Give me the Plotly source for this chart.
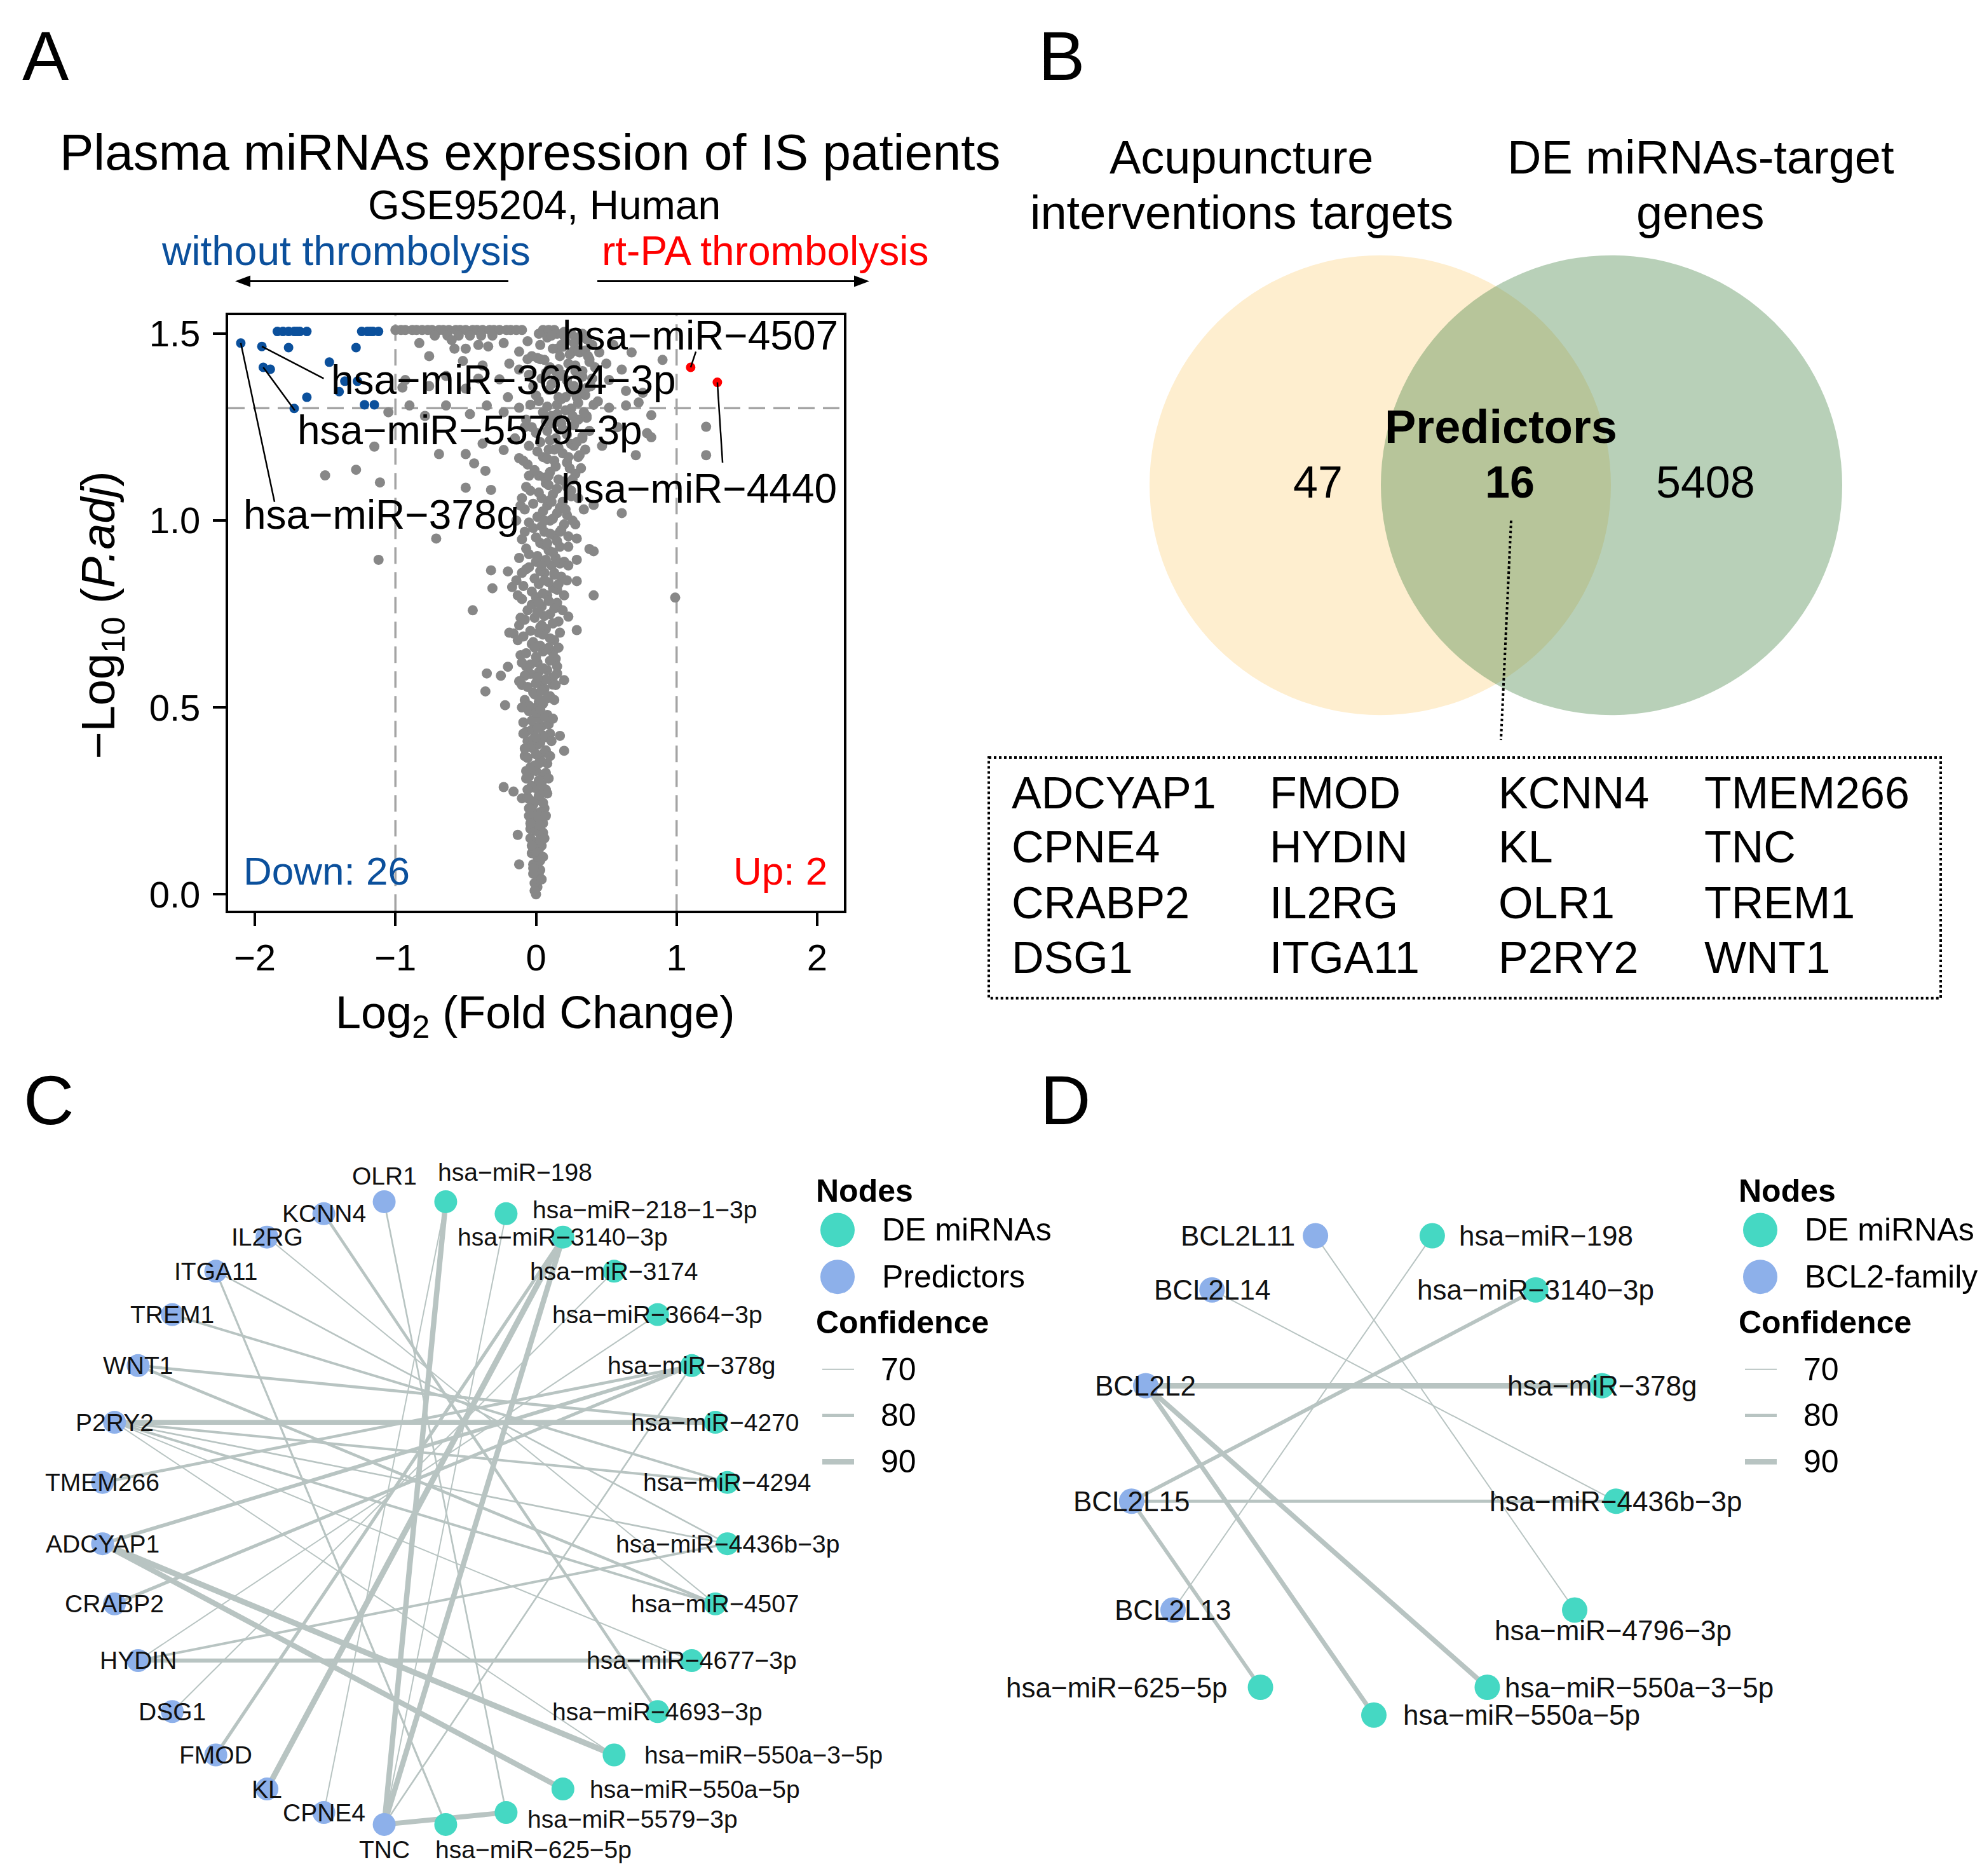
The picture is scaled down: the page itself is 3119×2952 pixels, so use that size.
import math
import plotly.graph_objects as go

W, H = 3119, 2952
FONT = "Liberation Sans, Arial, sans-serif"
BLUE = "#0b509c"
RED = "#ff0000"
GRAY = "#878787"
TEAL = "#45d8c3"
PRED = "#8db0ea"
EDGE = "#b8c4c2"

# ---------------- Panel A data (volcano) : (log2FC, -log10 P.adj) ----------------
gray_points = [
    (-1.00, 1.51), (-0.96, 1.51), (-0.93, 1.51), (-0.88, 1.51), (-0.85, 1.51), (-0.81, 1.51),
    (-0.77, 1.51), (-0.74, 1.51), (-0.69, 1.51), (-0.66, 1.51), (-0.62, 1.51), (-0.57, 1.51),
    (-0.54, 1.51), (-0.50, 1.51), (-0.45, 1.51), (-0.42, 1.51), (-0.38, 1.51), (-0.33, 1.51),
    (-0.30, 1.51), (-0.26, 1.51), (-0.21, 1.51), (-0.18, 1.51), (-0.14, 1.51), (-0.10, 1.51),
    (-0.72, 1.495), (-0.63, 1.495), (-0.55, 1.495), (-0.47, 1.495), (-0.39, 1.495), (-0.31, 1.495),
    (0.02, 1.50), (0.05, 1.51), (0.09, 1.51), (0.13, 1.51), (0.20, 1.505), (0.25, 1.50), (0.30, 1.49), (0.33, 1.50),
    (-0.83, 1.475), (-0.76, 1.44), (-0.58, 1.46), (-0.50, 1.46), (-0.41, 1.47), (-0.34, 1.466),
    (-0.23, 1.475), (-0.12, 1.452), (-0.60, 1.483), (-0.52, 1.427), (-0.38, 1.415), (-0.19, 1.42),
    (-0.95, 1.356), (-0.93, 1.376), (-0.76, 1.36), (-0.64, 1.387), (-0.50, 1.353), (-0.41, 1.38),
    (-0.26, 1.378), (-0.12, 1.404), (-0.06, 1.432),
    (0.20, 1.494), (0.29, 1.489), (0.15, 1.46), (0.26, 1.452), (0.38, 1.432), (0.50, 1.42),
    (0.61, 1.404), (0.52, 1.376), (0.64, 1.347), (0.73, 1.316), (0.82, 1.282), (0.90, 1.43),
    (0.79, 1.234), (0.76, 1.342), (0.64, 1.308), (0.52, 1.302), (0.44, 1.319), (0.35, 1.336),
    (0.26, 1.359), (0.17, 1.387), (0.09, 1.404), (0.03, 1.432),
    (-0.20, 1.33), (-0.12, 1.302), (-0.23, 1.29), (-0.35, 1.308), (-0.47, 1.285), (-0.64, 1.308),
    (-0.79, 1.28), (-0.90, 1.308), (-1.05, 1.29),
    (-1.15, 1.198), (-0.69, 1.178), (-0.50, 1.178), (-0.38, 1.206), (-0.23, 1.189), (-0.12, 1.167),
    (-0.44, 1.153), (-0.36, 1.133), (-0.50, 1.088), (-0.32, 1.082), (-1.28, 1.136), (-1.50, 1.121),
    (-1.11, 1.102), (-0.71, 0.952), (-1.12, 0.895), (1.21, 1.251), (1.21, 1.175), (0.71, 1.175),
    (0.82, 1.223), (0.61, 1.02), (0.41, 1.042), (0.38, 0.924), (0.29, 0.952), (0.23, 0.958),
    (0.29, 0.895), (0.41, 0.918), (0.99, 0.794), (0.41, 0.80), (0.23, 0.743), (-0.45, 0.76),
    (-0.32, 0.867), (-0.20, 0.864), (-0.31, 0.819), (-0.17, 0.822),
    (-0.08, 1.25), (-0.15, 1.22), (-0.05, 1.12), (-0.10, 1.06), (-0.14, 1.00), (0.25, 1.08),
    (0.30, 1.17), (0.33, 1.22), (0.36, 1.28), (0.40, 1.38), (0.45, 1.45), (0.55, 1.47),
    (0.68, 1.45), (0.58, 1.25), (0.47, 1.20), (0.34, 1.03), (0.28, 0.99),
    (-0.35, 0.591), (-0.36, 0.543), (-0.22, 0.506), (-0.25, 0.585), (-0.20, 0.609), (0.29, 0.838),
    (0.29, 0.707), (0.20, 0.573), (0.17, 0.424), (0.20, 0.384), (-0.23, 0.287), (-0.16, 0.275),
    (-0.10, 0.257), (-0.13, 0.159), (-0.12, 0.08), (-0.19, 0.70), (-0.16, 0.698), (0.12, 0.725),
    (0.15, 0.768), (0.12, 0.646), (0.15, 0.591), (0.12, 0.561),
    (0.00, 0.00), (0.01, 0.02), (-0.01, 0.03), (0.02, 0.05), (0.00, 0.06), (-0.02, 0.08), (0.03, 0.09), (0.01, 0.10),
    (-0.03, 0.11), (0.02, 0.12), (0.04, 0.13), (-0.01, 0.14), (-0.04, 0.15), (0.03, 0.16), (0.00, 0.17), (-0.03, 0.18), (0.05, 0.19), (0.01, 0.20),
    (-0.05, 0.21), (0.03, 0.22), (0.06, 0.23), (-0.02, 0.24), (0.00, 0.25), (-0.06, 0.26), (0.04, 0.27), (0.07, 0.28), (-0.03, 0.29), (0.02, 0.30),
    (-0.07, 0.31), (0.05, 0.32), (0.00, 0.33), (-0.04, 0.34), (0.08, 0.35), (0.03, 0.36), (-0.08, 0.37), (0.06, 0.38), (-0.02, 0.39), (0.01, 0.40),
    (-0.06, 0.41), (0.07, 0.42), (0.10, 0.43), (-0.03, 0.44), (0.04, 0.45), (-0.09, 0.46), (0.02, 0.47), (0.08, 0.48), (-0.05, 0.49), (0.00, 0.50),
    (0.05, 0.51), (-0.08, 0.52), (0.10, 0.53), (-0.02, 0.54), (0.06, 0.55), (-0.10, 0.56), (0.03, 0.57), (0.12, 0.58), (-0.04, 0.59), (0.08, 0.60),
    (-0.07, 0.61), (0.01, 0.62), (0.14, 0.63), (-0.11, 0.64), (0.05, 0.65), (0.09, 0.66), (-0.03, 0.67), (0.13, 0.68), (-0.09, 0.69), (0.02, 0.70),
    (0.07, 0.71), (-0.12, 0.72), (0.16, 0.73), (-0.01, 0.74), (0.10, 0.75), (-0.06, 0.76), (0.04, 0.77), (0.15, 0.78), (-0.10, 0.79), (0.08, 0.80),
    (-0.03, 0.81), (0.12, 0.82), (0.02, 0.83), (-0.14, 0.84), (0.18, 0.85), (0.06, 0.86), (-0.07, 0.87), (0.11, 0.88), (0.00, 0.89), (0.14, 0.90),
    (-0.05, 0.91), (0.09, 0.92), (0.17, 0.93), (0.03, 0.94), (-0.10, 0.95), (0.13, 0.96), (0.06, 0.97), (-0.02, 0.98), (0.20, 0.99), (0.10, 1.00),
    (0.01, 1.01), (0.15, 1.02), (-0.08, 1.03), (0.08, 1.04), (0.19, 1.05), (0.04, 1.06), (0.12, 1.07), (-0.04, 1.08), (0.22, 1.09), (0.07, 1.10),
    (0.16, 1.11), (0.02, 1.12), (0.10, 1.13), (0.24, 1.14), (-0.06, 1.15), (0.13, 1.16), (0.05, 1.17), (0.19, 1.18), (0.09, 1.19), (0.27, 1.20),
    (0.03, 1.21), (0.14, 1.22), (0.22, 1.23), (0.08, 1.24), (-0.03, 1.25), (0.18, 1.26), (0.30, 1.27), (0.11, 1.28), (0.05, 1.29), (0.25, 1.30),
    (0.15, 1.31), (0.02, 1.32), (0.21, 1.33), (0.32, 1.34), (0.09, 1.35), (0.27, 1.36), (0.13, 1.37), (0.04, 1.38), (0.19, 1.39), (0.28, 1.40),
    (0.10, 1.41), (0.23, 1.42), (0.06, 1.43), (0.17, 1.44), (0.31, 1.45), (0.12, 1.46), (0.03, 1.47), (0.21, 1.48), (0.08, 1.49), (0.15, 1.50),
    (-0.01, 0.01), (0.02, 0.04), (-0.02, 0.055), (0.01, 0.075), (0.03, 0.065),
    (0.00, 0.115), (-0.02, 0.125), (0.03, 0.145), (0.05, 0.165), (-0.04, 0.175), (0.02, 0.185),
    (0.01, 0.215), (-0.03, 0.225), (0.05, 0.245), (-0.05, 0.255), (0.02, 0.265), (0.06, 0.275), (-0.01, 0.285), (0.04, 0.295),
    (0.02, 0.305), (-0.05, 0.315), (0.07, 0.325), (-0.01, 0.345), (0.04, 0.355), (-0.06, 0.365), (0.00, 0.375), (0.07, 0.385), (-0.04, 0.395),
    (0.03, 0.405), (-0.02, 0.415), (0.05, 0.425), (-0.07, 0.435), (0.01, 0.445), (0.09, 0.455), (-0.03, 0.465), (0.06, 0.475), (0.00, 0.485), (0.03, 0.495),
    (-0.05, 0.505), (0.02, 0.515), (0.08, 0.525), (-0.01, 0.535), (0.04, 0.545), (-0.06, 0.555), (0.00, 0.565), (0.07, 0.575), (-0.08, 0.585), (0.02, 0.595),
    (0.05, 0.605), (-0.04, 0.615), (0.10, 0.625), (0.00, 0.635), (-0.07, 0.645), (0.07, 0.655), (0.03, 0.665), (-0.02, 0.675), (0.10, 0.685), (0.05, 0.695),
    (-0.04, 0.705), (0.03, 0.715), (0.12, 0.725), (-0.08, 0.735), (0.06, 0.745), (0.01, 0.755), (0.13, 0.765), (-0.03, 0.775), (0.09, 0.785), (0.00, 0.795),
    (0.05, 0.805), (0.15, 0.815), (-0.09, 0.825), (0.09, 0.835), (-0.01, 0.845), (0.13, 0.855), (0.03, 0.865), (-0.05, 0.875), (0.17, 0.885), (0.07, 0.895),
    (0.01, 0.905), (0.12, 0.915), (-0.07, 0.925), (0.06, 0.935), (0.15, 0.945), (0.00, 0.955), (0.10, 0.965), (0.18, 0.975), (0.04, 0.985), (-0.05, 0.995),
    (0.12, 1.005), (0.22, 1.015), (0.05, 1.025), (0.17, 1.035), (-0.02, 1.045), (0.10, 1.055), (0.25, 1.065), (0.02, 1.075), (0.15, 1.085), (0.09, 1.095),
    (0.20, 1.105), (0.06, 1.115), (0.28, 1.125), (-0.01, 1.135), (0.14, 1.145), (0.22, 1.155), (0.08, 1.165), (0.31, 1.175), (0.01, 1.185), (0.16, 1.195),
    (0.25, 1.205), (0.10, 1.215), (0.33, 1.225), (0.00, 1.235), (0.19, 1.245), (0.27, 1.255), (0.07, 1.265), (0.36, 1.275), (0.15, 1.285), (0.21, 1.295),
    (0.08, 1.305), (0.30, 1.315), (0.18, 1.325), (0.00, 1.335), (0.25, 1.345), (0.36, 1.355), (0.11, 1.365), (0.22, 1.375), (0.33, 1.385), (0.07, 1.395),
    (0.16, 1.405), (0.28, 1.415), (0.38, 1.425), (0.01, 1.435), (0.24, 1.445), (0.35, 1.455), (0.19, 1.465), (0.27, 1.475), (0.36, 1.485), (0.11, 1.495),
    (0.30, 1.455), (0.40, 1.47), (0.37, 1.44), (0.42, 1.41), (0.33, 1.40), (0.39, 1.36), (0.29, 1.33), (0.41, 1.31),
    (0.34, 1.29), (0.26, 1.28), (0.38, 1.24), (0.29, 1.21), (0.35, 1.19), (0.23, 1.17), (0.32, 1.14), (0.26, 1.11),
    (0.30, 1.06), (0.21, 1.03), (0.26, 1.00), (0.17, 0.97), (0.23, 0.93), (0.13, 0.86), (0.20, 0.89), (0.16, 0.83),
    (-0.06, 1.48), (-0.03, 1.44), (-0.05, 1.39), (-0.02, 1.36), (-0.04, 1.31), (-0.07, 1.27), (-0.05, 1.20),
    (-0.09, 1.16), (-0.07, 1.09), (-0.11, 1.04), (-0.08, 0.97), (-0.12, 0.90), (-0.10, 0.86), (-0.13, 0.80),
    (-0.11, 0.74), (-0.13, 0.68), (-0.10, 0.62), (-0.12, 0.57), (-0.10, 0.50), (-0.09, 0.43), (-0.08, 0.39),
    (-0.07, 0.33), (-0.06, 0.28), (-0.05, 0.23), (-0.04, 0.19), (-0.03, 0.13), (-0.02, 0.07),
    (0.04, 0.04), (0.05, 0.10), (0.06, 0.15), (0.07, 0.21), (0.08, 0.27), (0.09, 0.31), (0.10, 0.37),
    (0.11, 0.41), (0.12, 0.47), (0.13, 0.52), (0.14, 0.56), (0.15, 0.61), (0.16, 0.66), (0.17, 0.70),
    (0.19, 0.76), (0.20, 0.80), (0.22, 0.84), (0.23, 0.88),
    (0.02, 0.35), (0.00, 0.42), (0.03, 0.52), (0.01, 0.58), (-0.01, 0.66), (0.04, 0.72), (0.02, 0.78),
    (0.06, 0.84), (0.04, 0.88), (0.08, 0.94), (0.06, 1.00), (0.11, 1.05), (0.09, 1.12), (0.13, 1.19),
    (0.12, 1.26), (0.16, 1.33), (0.14, 1.40), (0.18, 1.47),
]
down_points = [
    (-2.10, 1.475), (-1.95, 1.466), (-1.94, 1.41), (-1.89, 1.405), (-1.76, 1.463), (-1.28, 1.463),
    (-1.84, 1.506), (-1.80, 1.506), (-1.76, 1.506), (-1.72, 1.506), (-1.68, 1.506), (-1.63, 1.506),
    (-1.70, 1.506), (-1.24, 1.506), (-1.20, 1.506), (-1.16, 1.506), (-1.12, 1.506), (-1.18, 1.506),
    (-1.47, 1.424), (-1.36, 1.373), (-1.27, 1.373), (-1.40, 1.345), (-1.63, 1.33), (-1.72, 1.30),
    (-1.22, 1.31), (-1.15, 1.31),
]
up_points = [(1.10, 1.41), (1.29, 1.37)]
padj_cutoff = 0.05
fc_cutoff = 1.0
# labelled miRNAs: (name, group, index in that group)
labelled = [
    ("hsa-miR-378g", "down", 0),
    ("hsa-miR-3664-3p", "down", 1),
    ("hsa-miR-5579-3p", "down", 2),
    ("hsa-miR-4507", "up", 0),
    ("hsa-miR-4440", "up", 1),
]

# ---------------- Panel B data (Venn) ----------------
venn_sets = ["Acupuncture<br>interventions targets", "DE miRNAs-target<br>genes"]
venn_only_left = 47
venn_both = 16
venn_only_right = 5408
predictor_genes = ["ADCYAP1", "CPNE4", "CRABP2", "DSG1", "FMOD", "HYDIN", "IL2RG", "ITGA11",
                   "KCNN4", "KL", "OLR1", "P2RY2", "TMEM266", "TNC", "TREM1", "WNT1"]

# ---------------- Panel C data (network) ----------------
c_mirnas = ["hsa-miR-198", "hsa-miR-218-1-3p", "hsa-miR-3140-3p", "hsa-miR-3174", "hsa-miR-3664-3p",
            "hsa-miR-378g", "hsa-miR-4270", "hsa-miR-4294", "hsa-miR-4436b-3p", "hsa-miR-4507",
            "hsa-miR-4677-3p", "hsa-miR-4693-3p", "hsa-miR-550a-3-5p", "hsa-miR-550a-5p",
            "hsa-miR-5579-3p", "hsa-miR-625-5p"]
c_predictors = ["TNC", "CPNE4", "KL", "FMOD", "DSG1", "HYDIN", "CRABP2", "ADCYAP1", "TMEM266",
                "P2RY2", "WNT1", "TREM1", "ITGA11", "IL2RG", "KCNN4", "OLR1"]
c_edges = [
    ("TNC", "hsa-miR-198", 90), ("TNC", "hsa-miR-3140-3p", 90), ("TNC", "hsa-miR-5579-3p", 88),
    ("TNC", "hsa-miR-218-1-3p", 70), ("TNC", "hsa-miR-378g", 72), ("KL", "hsa-miR-3140-3p", 92),
    ("FMOD", "hsa-miR-3140-3p", 80), ("CPNE4", "hsa-miR-198", 70), ("DSG1", "hsa-miR-3174", 70),
    ("HYDIN", "hsa-miR-4677-3p", 84), ("HYDIN", "hsa-miR-4436b-3p", 76), ("HYDIN", "hsa-miR-3664-3p", 70),
    ("CRABP2", "hsa-miR-378g", 80), ("ADCYAP1", "hsa-miR-378g", 82), ("ADCYAP1", "hsa-miR-550a-3-5p", 92),
    ("ADCYAP1", "hsa-miR-550a-5p", 90), ("TMEM266", "hsa-miR-378g", 78), ("P2RY2", "hsa-miR-4270", 88),
    ("P2RY2", "hsa-miR-4294", 76), ("P2RY2", "hsa-miR-4436b-3p", 72), ("P2RY2", "hsa-miR-4507", 76),
    ("P2RY2", "hsa-miR-4677-3p", 70), ("P2RY2", "hsa-miR-550a-3-5p", 70), ("WNT1", "hsa-miR-4270", 78),
    ("WNT1", "hsa-miR-4507", 78), ("TREM1", "hsa-miR-4294", 76), ("ITGA11", "hsa-miR-625-5p", 74),
    ("ITGA11", "hsa-miR-4436b-3p", 72), ("IL2RG", "hsa-miR-4507", 70), ("KCNN4", "hsa-miR-4693-3p", 78),
    ("OLR1", "hsa-miR-5579-3p", 72),
]

# ---------------- Panel D data (network) ----------------
d_mirnas = ["hsa-miR-198", "hsa-miR-3140-3p", "hsa-miR-378g", "hsa-miR-4436b-3p", "hsa-miR-4796-3p",
            "hsa-miR-550a-3-5p", "hsa-miR-550a-5p", "hsa-miR-625-5p"]
d_bcl2 = ["BCL2L13", "BCL2L15", "BCL2L2", "BCL2L14", "BCL2L11"]
d_edges = [
    ("BCL2L2", "hsa-miR-378g", 92), ("BCL2L2", "hsa-miR-550a-3-5p", 88), ("BCL2L2", "hsa-miR-550a-5p", 86),
    ("BCL2L15", "hsa-miR-3140-3p", 82), ("BCL2L15", "hsa-miR-4436b-3p", 80), ("BCL2L15", "hsa-miR-625-5p", 82),
    ("BCL2L14", "hsa-miR-4436b-3p", 70), ("BCL2L11", "hsa-miR-4796-3p", 70), ("BCL2L13", "hsa-miR-198", 70),
]
legend_conf = [70, 80, 90]

# ---------------- helpers ----------------
def conf_width(c):
    return 2.0 + (c - 70) * 0.32

def circle_layout(nodes):
    n = len(nodes)
    step = 360.0 / n
    start = 90.0 - step / 2.0
    return {nm: (math.cos(math.radians(start - i * step)), math.sin(math.radians(start - i * step)))
            for i, nm in enumerate(nodes)}

def disp(name):
    return name.replace("-", "\u2212") if name.startswith("hsa") else name

fig = go.Figure()
ann = []
shapes = []

def txt(x, y, text, size, color="black", xanchor="center", yanchor="middle", ref=("x4", "y4"), **kw):
    d = dict(x=x, y=y, xref=ref[0], yref=ref[1], text=text, showarrow=False, xanchor=xanchor,
             yanchor=yanchor, font=dict(size=size, color=color, family=FONT))
    d.update(kw)
    ann.append(d)

# ---------------- Panel A ----------------
fig.add_trace(go.Scatter(x=[p[0] for p in gray_points], y=[p[1] for p in gray_points], mode="markers",
                         marker=dict(size=16, color=GRAY), xaxis="x", yaxis="y", hoverinfo="skip"))
fig.add_trace(go.Scatter(x=[p[0] for p in down_points], y=[p[1] for p in down_points], mode="markers",
                         marker=dict(size=15, color=BLUE), xaxis="x", yaxis="y", hoverinfo="skip"))
fig.add_trace(go.Scatter(x=[p[0] for p in up_points], y=[p[1] for p in up_points], mode="markers",
                         marker=dict(size=15, color=RED), xaxis="x", yaxis="y", hoverinfo="skip"))

ycut = -math.log10(padj_cutoff)
dash_style = dict(color="#a4a4a4", width=3.5, dash="26px,13px")
for xv in (-fc_cutoff, fc_cutoff):
    shapes.append(dict(type="line", xref="x", yref="y domain", x0=xv, x1=xv, y0=0, y1=1,
                       line=dash_style, layer="below"))
shapes.append(dict(type="line", xref="x domain", yref="y", x0=0, x1=1, y0=ycut, y1=ycut,
                   line=dash_style, layer="below"))

# label text centre and leader-line end (data coordinates)
label_layout = {
    "hsa-miR-378g": ((-1.10, 1.015), (-1.86, 1.05)),
    "hsa-miR-3664-3p": ((-0.23, 1.376), (-1.51, 1.38)),
    "hsa-miR-5579-3p": ((-0.47, 1.241), (-1.716, 1.295)),
    "hsa-miR-4507": ((1.168, 1.495), (1.137, 1.452)),
    "hsa-miR-4440": ((1.16, 1.085), (1.327, 1.155)),
}
groups = {"down": down_points, "up": up_points}
for name, grp, idx in labelled:
    px_, py_ = groups[grp][idx]
    (tx, ty), (lx, ly) = label_layout[name]
    shapes.append(dict(type="line", xref="x", yref="y", x0=px_, y0=py_, x1=lx, y1=ly,
                       line=dict(color="black", width=2.5)))
    txt(tx, ty, disp(name), 64, ref=("x", "y"))

txt(-2.09, 0.0, f"Down: {len(down_points)}", 62, BLUE, xanchor="left", yanchor="bottom", ref=("x", "y"))
txt(2.08, 0.0, f"Up: {len(up_points)}", 62, RED, xanchor="right", yanchor="bottom", ref=("x", "y"))

txt(834, 236, "Plasma miRNAs expression of IS patients", 80)
txt(856, 320, "GSE95204, Human", 64)
txt(544, 392, "without thrombolysis", 64, BLUE)
txt(1204, 392, "rt-PA thrombolysis", 64, RED)
# header arrows
shapes.append(dict(type="line", xref="x4", yref="y4", x0=388, y0=440, x1=800, y1=440,
                   line=dict(color="black", width=3)))
shapes.append(dict(type="path", xref="x4", yref="y4", path="M 370 440 L 394 431 L 394 449 Z",
                   fillcolor="black", line=dict(width=0)))
shapes.append(dict(type="line", xref="x4", yref="y4", x0=940, y0=440, x1=1350, y1=440,
                   line=dict(color="black", width=3)))
shapes.append(dict(type="path", xref="x4", yref="y4", path="M 1368 440 L 1344 431 L 1344 449 Z",
                   fillcolor="black", line=dict(width=0)))
txt(842, 1600, "Log<sub>2</sub> (Fold Change)", 72)
txt(160, 968, "\u2212Log<sub>10</sub> (<i>P.adj</i>)", 74, textangle=-90)

# ---------------- Panel B (Venn) ----------------
r = 363
shapes.append(dict(type="circle", xref="x4", yref="y4", x0=2172 - r, x1=2172 + r, y0=762 - r, y1=762 + r,
                   fillcolor="#feeecf", line=dict(width=0), layer="below"))
shapes.append(dict(type="circle", xref="x4", yref="y4", x0=2536 - r, x1=2536 + r, y0=762 - r, y1=762 + r,
                   fillcolor="rgba(68,131,68,0.38)", line=dict(width=0), layer="below"))
l1, l2 = venn_sets[0].split("<br>")
txt(1954, 244, l1, 74)
txt(1954, 332, l2, 74)
r1, r2 = venn_sets[1].split("<br>")
txt(2676, 244, r1, 74)
txt(2676, 332, r2, 74)
txt(2362, 670, "<b>Predictors</b>", 74)
txt(2074, 758, str(venn_only_left), 70)
txt(2376, 758, f"<b>{venn_both}</b>", 70)
txt(2684, 758, str(venn_only_right), 70)
shapes.append(dict(type="line", xref="x4", yref="y4", x0=2378, y0=818, x1=2362, y1=1164,
                   line=dict(color="black", width=4, dash="dot")))
shapes.append(dict(type="rect", xref="x4", yref="y4", x0=1556, y0=1192, x1=3054, y1=1572,
                   line=dict(color="black", width=4, dash="dot")))
col_x = [1590, 1996, 2356, 2680]
row_y = [1248, 1334, 1422, 1508]
genes_sorted = sorted(predictor_genes)
for i, g in enumerate(genes_sorted):
    txt(col_x[i // 4], row_y[i % 4], g, 70, xanchor="left")

# ---------------- Panel C (network) ----------------
c_pos = circle_layout(c_mirnas + c_predictors)
for a, b, conf in sorted(c_edges, key=lambda e: e[2]):
    fig.add_trace(go.Scatter(x=[c_pos[a][0], c_pos[b][0]], y=[c_pos[a][1], c_pos[b][1]], mode="lines",
                             line=dict(color=EDGE, width=conf_width(conf)), xaxis="x2", yaxis="y2",
                             hoverinfo="skip"))
fig.add_trace(go.Scatter(x=[c_pos[n][0] for n in c_predictors], y=[c_pos[n][1] for n in c_predictors],
                         mode="markers", marker=dict(size=36, color=PRED), xaxis="x2", yaxis="y2", hoverinfo="skip"))
fig.add_trace(go.Scatter(x=[c_pos[n][0] for n in c_mirnas], y=[c_pos[n][1] for n in c_mirnas],
                         mode="markers", marker=dict(size=36, color=TEAL), xaxis="x2", yaxis="y2", hoverinfo="skip"))
c_label_style = {
    "OLR1": (0, 40, "center"), "TNC": (0, -40, "center"),
    "hsa-miR-198": (-14, 46, "left"), "hsa-miR-218-1-3p": (40, 6, "left"),
    "hsa-miR-550a-3-5p": (46, 0, "left"), "hsa-miR-550a-5p": (40, 0, "left"),
    "hsa-miR-5579-3p": (32, -10, "left"), "hsa-miR-625-5p": (-18, -40, "left"),
}
for n in c_mirnas + c_predictors:
    dx, dy, anc = c_label_style.get(n, (0, 0, "center"))
    txt(c_pos[n][0], c_pos[n][1], disp(n), 39, "#111111", xanchor=anc, ref=("x2", "y2"), xshift=dx, yshift=dy)

# ---------------- Panel D (network) ----------------
d_pos = circle_layout(d_mirnas + d_bcl2)
for a, b, conf in sorted(d_edges, key=lambda e: e[2]):
    fig.add_trace(go.Scatter(x=[d_pos[a][0], d_pos[b][0]], y=[d_pos[a][1], d_pos[b][1]], mode="lines",
                             line=dict(color=EDGE, width=conf_width(conf)), xaxis="x3", yaxis="y3",
                             hoverinfo="skip"))
fig.add_trace(go.Scatter(x=[d_pos[n][0] for n in d_bcl2], y=[d_pos[n][1] for n in d_bcl2],
                         mode="markers", marker=dict(size=40, color=PRED), xaxis="x3", yaxis="y3", hoverinfo="skip"))
fig.add_trace(go.Scatter(x=[d_pos[n][0] for n in d_mirnas], y=[d_pos[n][1] for n in d_mirnas],
                         mode="markers", marker=dict(size=40, color=TEAL), xaxis="x3", yaxis="y3", hoverinfo="skip"))
d_label_style = {
    "BCL2L11": (-30, 0, "right"), "hsa-miR-198": (40, 0, "left"),
    "hsa-miR-550a-3-5p": (26, 0, "left"), "hsa-miR-550a-5p": (44, 0, "left"),
    "hsa-miR-625-5p": (-50, 0, "right"), "hsa-miR-4796-3p": (60, -32, "center"),
}
for n in d_mirnas + d_bcl2:
    dx, dy, anc = d_label_style.get(n, (0, 0, "center"))
    txt(d_pos[n][0], d_pos[n][1], disp(n), 44, "#111111", xanchor=anc, ref=("x3", "y3"), xshift=dx, yshift=dy)

# ---------------- Legends for C and D ----------------
def network_legend(x0, second_label):
    txt(x0, 1876, "<b>Nodes</b>", 50, xanchor="left")
    fig.add_trace(go.Scatter(x=[x0 + 36, x0 + 36], y=[1938, 2012], mode="markers",
                             marker=dict(size=54, color=[TEAL, PRED]), xaxis="x4", yaxis="y4", hoverinfo="skip"))
    txt(x0 + 104, 1938, "DE miRNAs", 50, xanchor="left")
    txt(x0 + 104, 2012, second_label, 50, xanchor="left")
    txt(x0, 2084, "<b>Confidence</b>", 50, xanchor="left")
    for k, c in enumerate(legend_conf):
        yy = 2158 + k * 73
        fig.add_trace(go.Scatter(x=[x0 + 12, x0 + 62], y=[yy, yy], mode="lines",
                                 line=dict(color=EDGE, width=conf_width(c)), xaxis="x4", yaxis="y4",
                                 hoverinfo="skip"))
        txt(x0 + 102, yy, str(c), 50, xanchor="left")

network_legend(1282, "Predictors")
network_legend(2734, "BCL2-family")

# ---------------- panel letters ----------------
for letter, (lx, ly) in zip("ABCD", [(72, 84), (1670, 84), (76, 1732), (1676, 1732)]):
    txt(lx, ly, letter, 110)

# ---------------- axes ----------------
def pxd(a, b):
    return [a / W, b / W]

def pyd(top, bottom):
    return [1 - bottom / H, 1 - top / H]

hidden = dict(visible=False, showgrid=False, zeroline=False, fixedrange=True)
c_cx, c_cy, c_r = 653, 2385, 494
d_cx, d_cy, d_r = 2162, 2320, 384
fig.update_layout(
    width=W, height=H, margin=dict(l=0, r=0, t=0, b=0, pad=0),
    paper_bgcolor="white", plot_bgcolor="rgba(0,0,0,0)", showlegend=False,
    font=dict(family=FONT, color="black"),
    xaxis=dict(domain=pxd(359, 1328), range=[-2.19, 2.19], tickvals=[-2, -1, 0, 1, 2],
               showline=True, mirror=True, linecolor="black", linewidth=4, ticks="outside",
               ticklen=20, tickwidth=4, tickcolor="black", tickfont=dict(size=58, family=FONT),
               showgrid=False, zeroline=False, ticklabelstandoff=0, fixedrange=True),
    yaxis=dict(domain=pyd(494, 1434), range=[-0.044, 1.549], tickvals=[0, 0.5, 1.0, 1.5],
               ticktext=["0.0", "0.5", "1.0", "1.5"],
               showline=True, mirror=True, linecolor="black", linewidth=4, ticks="outside",
               ticklen=20, tickwidth=4, tickcolor="black", tickfont=dict(size=58, family=FONT),
               showgrid=False, zeroline=False, ticklabelstandoff=8, fixedrange=True),
    xaxis2=dict(domain=pxd(20, 1300), range=[(20 - c_cx) / c_r, (1300 - c_cx) / c_r], **hidden),
    yaxis2=dict(domain=pyd(1760, 2950), range=[(c_cy - 2950) / c_r, (c_cy - 1760) / c_r], **hidden),
    xaxis3=dict(domain=pxd(1560, 2720), range=[(1560 - d_cx) / d_r, (2720 - d_cx) / d_r], **hidden),
    yaxis3=dict(domain=pyd(1800, 2900), range=[(d_cy - 2900) / d_r, (d_cy - 1800) / d_r], **hidden),
    xaxis4=dict(domain=[0, 1], range=[0, W], **hidden),
    yaxis4=dict(domain=[0, 1], range=[H, 0], **hidden),
    annotations=ann, shapes=shapes,
)

fig.write_html(
    "out.html",
    config={"displayModeBar": False},
    post_script="document.body.style.margin='0';document.body.style.padding='0';"
                "document.documentElement.style.overflow='hidden';",
)
